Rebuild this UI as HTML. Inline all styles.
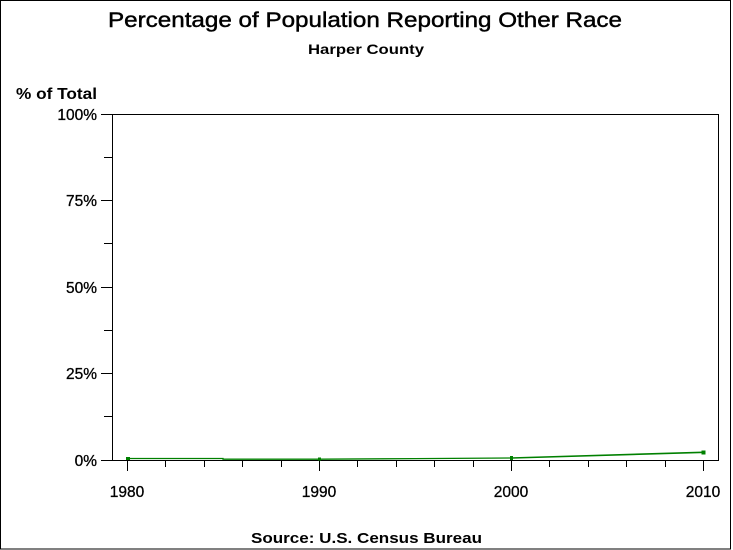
<!DOCTYPE html>
<html><head><meta charset="utf-8"><style>
html,body{margin:0;padding:0;background:#fff;}
svg{display:block;}
text{font-family:"Liberation Sans",Arial,sans-serif;fill:#000;}
</style></head><body>
<svg width="733" height="550" viewBox="0 0 733 550" xmlns="http://www.w3.org/2000/svg">
<rect x="0" y="0" width="733" height="550" fill="#fff"/>
<rect x="0.5" y="0.5" width="730" height="548.5" fill="none" stroke="#000" stroke-width="1" shape-rendering="crispEdges"/>
<text x="108" y="27" font-size="21.5" stroke="#000" stroke-width="0.45" textLength="514" lengthAdjust="spacingAndGlyphs">Percentage of Population Reporting Other Race</text>
<text x="308" y="54" font-size="14" font-weight="bold" textLength="116" lengthAdjust="spacingAndGlyphs">Harper County</text>
<text x="16" y="99" font-size="15.5" font-weight="bold" textLength="81" lengthAdjust="spacingAndGlyphs">% of Total</text>
<g shape-rendering="crispEdges" stroke="#000" stroke-width="1" fill="none">
<rect x="112.5" y="114.5" width="606" height="346"/>
<line x1="101" y1="114.5" x2="112" y2="114.5"/>
<line x1="104" y1="157.5" x2="112" y2="157.5"/>
<line x1="101" y1="200.5" x2="112" y2="200.5"/>
<line x1="104" y1="243.5" x2="112" y2="243.5"/>
<line x1="101" y1="287.5" x2="112" y2="287.5"/>
<line x1="104" y1="330.5" x2="112" y2="330.5"/>
<line x1="101" y1="373.5" x2="112" y2="373.5"/>
<line x1="104" y1="416.5" x2="112" y2="416.5"/>
<line x1="101" y1="460.5" x2="112" y2="460.5"/>
<line x1="127.5" y1="460" x2="127.5" y2="471"/>
<line x1="165.5" y1="460" x2="165.5" y2="467"/>
<line x1="204.5" y1="460" x2="204.5" y2="467"/>
<line x1="242.5" y1="460" x2="242.5" y2="467"/>
<line x1="281.5" y1="460" x2="281.5" y2="467"/>
<line x1="319.5" y1="460" x2="319.5" y2="471"/>
<line x1="357.5" y1="460" x2="357.5" y2="467"/>
<line x1="396.5" y1="460" x2="396.5" y2="467"/>
<line x1="434.5" y1="460" x2="434.5" y2="467"/>
<line x1="473.5" y1="460" x2="473.5" y2="467"/>
<line x1="511.5" y1="460" x2="511.5" y2="471"/>
<line x1="549.5" y1="460" x2="549.5" y2="467"/>
<line x1="588.5" y1="460" x2="588.5" y2="467"/>
<line x1="626.5" y1="460" x2="626.5" y2="467"/>
<line x1="665.5" y1="460" x2="665.5" y2="467"/>
<line x1="703.5" y1="460" x2="703.5" y2="471"/>
</g>
<g font-size="15.5" text-anchor="end" stroke="#000" stroke-width="0.3">
<text x="97" y="120">100%</text>
<text x="97" y="206">75%</text>
<text x="97" y="293">50%</text>
<text x="97" y="379">25%</text>
<text x="97" y="466">0%</text>
</g>
<g font-size="15.5" text-anchor="middle" stroke="#000" stroke-width="0.3">
<text x="127" y="497">1980</text>
<text x="319" y="497">1990</text>
<text x="511" y="497">2000</text>
<text x="703" y="497">2010</text>
</g>
<polyline points="127.5,458.5 223,458.5 223,459.2 319.5,459.2 415,458.6 511.5,458" fill="none" stroke="#008000" stroke-width="1.3"/>
<polyline points="511.5,458 703.5,452.3" fill="none" stroke="#008000" stroke-width="1.6"/>
<g fill="#008000">
<rect x="126" y="457" width="4" height="3"/>
<rect x="318" y="457.5" width="3" height="3"/>
<rect x="510" y="456" width="3" height="4"/>
<rect x="701.5" y="450.5" width="4" height="4"/>
</g>
<text x="251" y="543" font-size="15" font-weight="bold" textLength="231" lengthAdjust="spacingAndGlyphs">Source: U.S. Census Bureau</text>
</svg>
</body></html>
